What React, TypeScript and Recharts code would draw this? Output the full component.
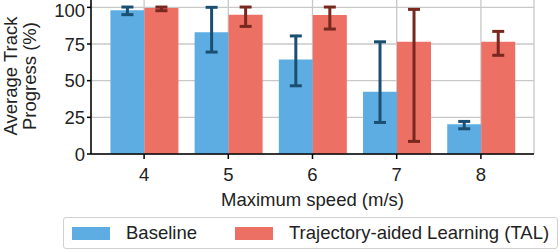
import { BarChart, Bar, XAxis, YAxis, CartesianGrid, ErrorBar } from 'recharts';

const speeds = ['4', '5', '6', '7', '8'];
const baseline = [98, 83, 64.5, 42.5, 20.2];
const baselineErrLow = [3, 13.5, 18, 21, 3];
const baselineErrHigh = [2.2, 17, 16, 34, 2];
const tal = [99.5, 95, 94.8, 76.6, 76.6];
const talErrLow = [1.8, 8, 9.6, 68, 9.3];
const talErrHigh = [0.7, 5.2, 5.4, 22, 7];
const yTicks = [0, 25, 50, 75, 100];

const BLUE = '#5DADE2';
const RED = '#EC7063';
const BLUE_DARK = '#1B4F72';
const RED_DARK = '#78281F';
const FONT = '"Liberation Sans", Arial, sans-serif';
const FS = 18.5;

const data = speeds.map((s, i) => ({
    speed: s,
    baseline: baseline[i],
    baselineErr: [baselineErrLow[i], baselineErrHigh[i]],
    tal: tal[i],
    talErr: [talErrLow[i], talErrHigh[i]],
}));

const legendItems = [
    { name: 'Baseline', color: BLUE },
    { name: 'Trajectory-aided Learning (TAL)', color: RED },
];

// etichetta asse y su due righe
function YLabel({ viewBox }: any) {
    const cy = viewBox.y + viewBox.height / 2 - 1;
    return (
        <g fontFamily={FONT} fontSize={FS} fill="#222">
            <text x={17} y={cy} textAnchor="middle" transform={`rotate(-90, 17, ${cy})`}>
                Average Track
            </text>
            <text x={35.5} y={cy} textAnchor="middle" transform={`rotate(-90, 35.5, ${cy})`}>
                Progress (%)
            </text>
        </g>
    );
}

function XLabel({ viewBox }: any) {
    const cx = viewBox.x + viewBox.width / 2;
    return (
        <text x={cx} y={206} textAnchor="middle" fontFamily={FONT} fontSize={FS} fill="#222">
            Maximum speed (m/s)
        </text>
    );
}

export default function App() {
    return (
        <div style={{ position: 'relative', width: 560, height: 252, fontFamily: FONT }}>
            <style>{'body{margin:0}'}</style>
            <BarChart
                width={560}
                height={252}
                data={data}
                margin={{ top: 0, right: 26, bottom: 42, left: 0 }}
                barCategoryGap="10%"
                barGap={0}
            >
                <XAxis
                    dataKey="speed"
                    height={56}
                    padding={{ left: 11, right: 11 }}
                    tickSize={5}
                    tickMargin={9}
                    tick={{ fill: '#222', fontSize: FS, fontFamily: FONT }}
                    axisLine={{ stroke: '#000', strokeWidth: 1.5 }}
                    tickLine={{ stroke: '#000', strokeWidth: 1.5 }}
                    label={<XLabel />}
                />
                <XAxis
                    xAxisId="top"
                    dataKey="speed"
                    orientation="top"
                    height={0}
                    padding={{ left: 11, right: 11 }}
                    tick={false}
                    tickLine={false}
                    axisLine={{ stroke: '#000', strokeWidth: 1.5 }}
                />
                <YAxis
                    width={91}
                    domain={[0, 105]}
                    ticks={yTicks}
                    tickSize={4}
                    tickMargin={2}
                    tick={{ fill: '#222', fontSize: FS, fontFamily: FONT }}
                    axisLine={{ stroke: '#000', strokeWidth: 1.5 }}
                    tickLine={{ stroke: '#000', strokeWidth: 1.5 }}
                    label={<YLabel />}
                />
                <YAxis
                    yAxisId="right"
                    orientation="right"
                    width={0}
                    domain={[0, 105]}
                    tick={false}
                    tickLine={false}
                    axisLine={{ stroke: '#000', strokeWidth: 1.5 }}
                />
                <Bar dataKey="baseline" name="Baseline" fill={BLUE} isAnimationActive={false}>
                    <ErrorBar dataKey="baselineErr" width={6} strokeWidth={3} stroke={BLUE_DARK} />
                </Bar>
                <Bar dataKey="tal" name="Trajectory-aided Learning (TAL)" fill={RED} isAnimationActive={false}>
                    <ErrorBar dataKey="talErr" width={6} strokeWidth={3} stroke={RED_DARK} />
                </Bar>
                <CartesianGrid stroke="#c8c8c8" strokeWidth={1.3} horizontalValues={yTicks} />
            </BarChart>
            <div
                style={{
                    position: 'absolute',
                    left: 63,
                    top: 217,
                    width: 495,
                    height: 32,
                    border: '1px solid #d0d0d0',
                    borderRadius: 3,
                    display: 'flex',
                    alignItems: 'center',
                    fontSize: FS,
                    color: '#222',
                    boxSizing: 'border-box',
                }}
            >
                {legendItems.map((it, i) => (
                    <div key={it.name} style={{ display: 'flex', alignItems: 'center', marginLeft: i === 0 ? 8 : 38 }}>
                        <span style={{ display: 'inline-block', width: 38, height: 13, background: it.color }} />
                        <span style={{ marginLeft: 16 }}>{it.name}</span>
                    </div>
                ))}
            </div>
        </div>
    );
}
